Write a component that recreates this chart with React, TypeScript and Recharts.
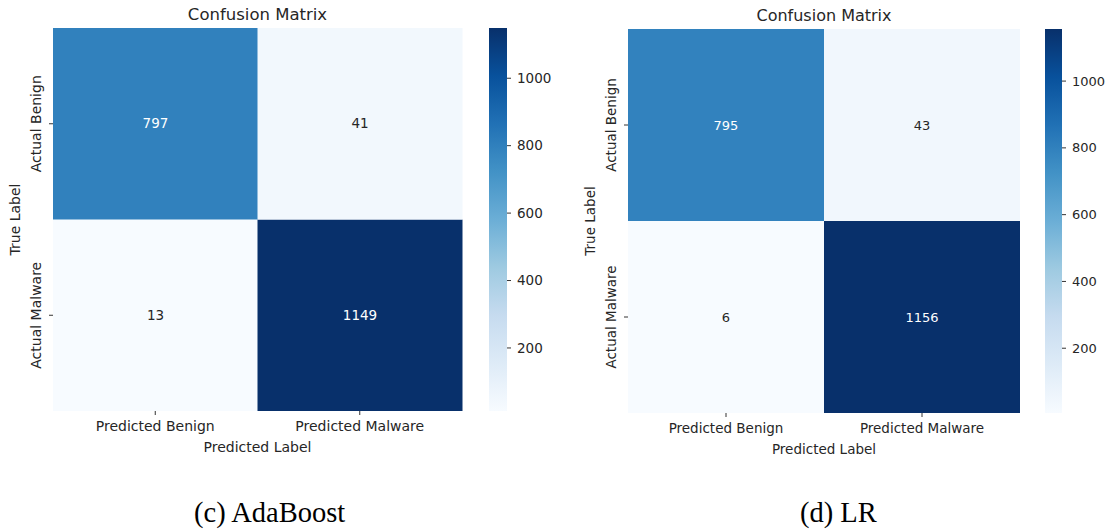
import { BarChart, Bar, XAxis, YAxis, Cell, LabelList, Label } from 'recharts';

const COLS = ['Predicted Benign', 'Predicted Malware'];
const ROWS = ['Actual Benign', 'Actual Malware'];
const ADA_BENIGN = [797, 41];
const ADA_MALWARE = [13, 1149];
const LR_BENIGN = [795, 43];
const LR_MALWARE = [6, 1156];
const CB_TICKS = [200, 400, 600, 800, 1000];

// matplotlib "Blues"
const BLUES = ['#f7fbff', '#deebf7', '#c6dbef', '#9ecae1', '#6baed6', '#4292c6', '#2171b5', '#08519c', '#08306b'];
const FONT = '"DejaVu Sans", sans-serif';
const INK = '#262626';

const hexToRgb = (h: string) => [1, 3, 5].map(i => parseInt(h.slice(i, i + 2), 16));

function blues(t: number) {
  const k = Math.max(0, Math.min(1, t)) * (BLUES.length - 1);
  const i = Math.min(Math.floor(k), BLUES.length - 2);
  const f = k - i;
  const a = hexToRgb(BLUES[i]);
  const b = hexToRgb(BLUES[i + 1]);
  const c = a.map((v, j) => Math.round(v + (b[j] - v) * f));
  return `rgb(${c[0]},${c[1]},${c[2]})`;
}

interface Box {
  plotLeft: number;
  plotTop: number;
  plotW: number;
  plotH: number;
  cbLeft: number;
  cbW: number;
  fontSize: number;
  titleSize: number;
  captionLeft: number;
}

const Y_AXIS_W = 53;
const X_AXIS_H = 45;

function Matrix({ id, benignRow, malwareRow, box, caption }: { id: string; benignRow: number[]; malwareRow: number[]; box: Box; caption: string }) {
  const all = [...benignRow, ...malwareRow];
  const lo = Math.min(...all);
  const hi = Math.max(...all);
  const color = (v: number) => blues((v - lo) / (hi - lo));
  const textColor = (v: number) => ((v - lo) / (hi - lo) > 0.5 ? '#ffffff' : INK);

  // stacked: bottom stack = Actual Malware row, top stack = Actual Benign row
  const data = COLS.map((name, i) => ({ name, malware: malwareRow[i], benign: benignRow[i], lowCell: 1, highCell: 1 }));
  const scaleData = [{ name: 'scale', range: [lo, hi] }];

  const chartW = Y_AXIS_W + box.plotW + 8;
  const chartH = box.plotTop + box.plotH + X_AXIS_H + 14;
  const fs = box.fontSize;

  const renderValue = (props: any) => {
    const vb = props.viewBox ?? props;
    const { x, y, width, height } = vb;
    return (
      <text x={x + width / 2} y={y + height / 2} dy="0.35em" textAnchor="middle" fontSize={fs - 0.5} fontFamily={FONT} fill={textColor(props.value)}>
        {props.value}
      </text>
    );
  };

  const RowTick = (props: any) => {
    const { x, y, payload } = props;
    const name = payload.value > 1 ? ROWS[0] : ROWS[1];
    return (
      <g transform={`translate(${x - 6},${y}) rotate(-90)`}>
        <text textAnchor="middle" fontSize={fs} fontFamily={FONT} fill={INK}>{name}</text>
      </g>
    );
  };

  return (
    <>
      <div style={{ position: 'absolute', left: box.plotLeft + box.plotW / 2, top: box.plotTop - 22, transform: 'translateX(-50%)', fontFamily: FONT, fontSize: box.titleSize, lineHeight: '18px', color: INK, whiteSpace: 'nowrap' }}>
        Confusion Matrix
      </div>

      <div style={{ position: 'absolute', left: box.plotLeft - Y_AXIS_W, top: 0 }}>
        <BarChart width={chartW} height={chartH} data={data} margin={{ top: box.plotTop, right: 8, bottom: 14, left: 0 }} barCategoryGap={0} barGap={0}>
          <XAxis dataKey="name" type="category" height={X_AXIS_H} axisLine={false} tickSize={4} tickMargin={6}
            tickLine={{ stroke: '#333', strokeWidth: 1 }} tick={{ fontSize: fs, fontFamily: FONT, fill: INK }}>
            <Label content={(p: any) => {
              const vb = p.viewBox;
              return <text x={vb.x + vb.width / 2} y={vb.y + 41} textAnchor="middle" fontSize={fs} fontFamily={FONT} fill={INK}>Predicted Label</text>;
            }} />
          </XAxis>
          <YAxis type="number" domain={[0, 2]} ticks={[0.5, 1.5]} width={Y_AXIS_W} axisLine={false} tickSize={4} tickMargin={2}
            tickLine={{ stroke: '#333', strokeWidth: 1 }} tick={<RowTick />}>
            <Label content={(p: any) => {
              const vb = p.viewBox;
              const cx = vb.x + 20;
              const cy = vb.y + vb.height / 2;
              return <text x={cx} y={cy} transform={`rotate(-90 ${cx} ${cy})`} textAnchor="middle" fontSize={fs} fontFamily={FONT} fill={INK}>True Label</text>;
            }} />
          </YAxis>
          <Bar dataKey="lowCell" stackId="cm" isAnimationActive={false}>
            {data.map((d, i) => <Cell key={`m-${i}`} fill={color(d.malware)} />)}
            <LabelList dataKey="malware" content={renderValue} />
          </Bar>
          <Bar dataKey="highCell" stackId="cm" isAnimationActive={false}>
            {data.map((d, i) => <Cell key={`b-${i}`} fill={color(d.benign)} />)}
            <LabelList dataKey="benign" content={renderValue} />
          </Bar>
        </BarChart>
      </div>

      {/* colorbar */}
      <div style={{ position: 'absolute', left: box.cbLeft, top: 0 }}>
        <BarChart width={box.cbW + 60} height={chartH} data={scaleData} margin={{ top: box.plotTop, right: 0, bottom: X_AXIS_H + 14, left: 0 }} barCategoryGap={0}>
          <defs>
            <linearGradient id={`grad-${id}`} x1="0" y1="1" x2="0" y2="0">
              {BLUES.map((c, i) => <stop key={i} offset={`${(i / (BLUES.length - 1)) * 100}%`} stopColor={c} />)}
            </linearGradient>
          </defs>
          <XAxis dataKey="name" hide />
          <YAxis orientation="right" type="number" domain={[lo, hi]} ticks={CB_TICKS} width={60} axisLine={false} tickSize={4} tickMargin={6}
            tickLine={{ stroke: '#333', strokeWidth: 1 }} tick={{ fontSize: fs - 0.5, fontFamily: FONT, fill: INK }} allowDataOverflow />
          <Bar dataKey="range" fill={`url(#grad-${id})`} isAnimationActive={false} />
        </BarChart>
      </div>

      <div style={{ position: 'absolute', left: box.captionLeft, top: 497, fontFamily: '"Liberation Serif", "Times New Roman", serif', fontSize: 28.5, lineHeight: '32px', color: '#000', whiteSpace: 'nowrap' }}>
        {caption}
      </div>
    </>
  );
}

export default function App() {
  return (
    <div style={{ position: 'fixed', left: 0, top: 0, width: 1112, height: 531, background: '#fff', overflow: 'hidden' }}>
      <Matrix id="ada" benignRow={ADA_BENIGN} malwareRow={ADA_MALWARE} caption="(c) AdaBoost"
        box={{ plotLeft: 53, plotTop: 28, plotW: 409, plotH: 383, cbLeft: 489, cbW: 18, fontSize: 14, titleSize: 16.5, captionLeft: 194 }} />
      <Matrix id="lr" benignRow={LR_BENIGN} malwareRow={LR_MALWARE} caption="(d) LR"
        box={{ plotLeft: 628, plotTop: 29, plotW: 392, plotH: 384, cbLeft: 1045, cbW: 17, fontSize: 13.5, titleSize: 16, captionLeft: 800 }} />
    </div>
  );
}
